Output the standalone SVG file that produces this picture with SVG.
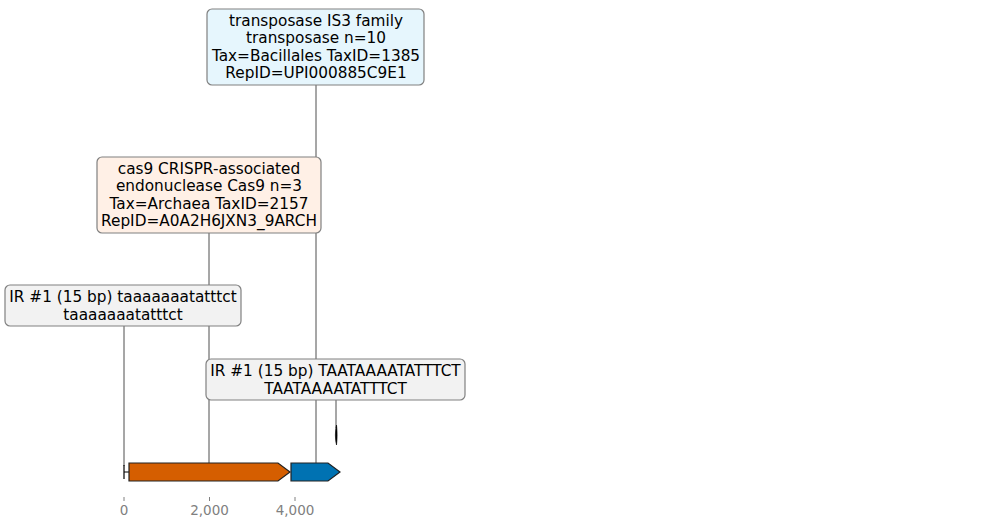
<svg xmlns="http://www.w3.org/2000/svg" width="989" height="528" viewBox="0 0 989 528">
<style>
.lbl{font-family:"DejaVu Sans",sans-serif;font-size:15.3px;fill:#000;text-anchor:middle}
.tick{font-family:"DejaVu Sans",sans-serif;font-size:13.5px;fill:#808080;text-anchor:middle}
.box{stroke:#808080;stroke-width:1.2}
.conn{stroke:#222;stroke-width:0.8;fill:none}
.gene{stroke:#222;stroke-width:1.2}
</style>
<rect width="989" height="528" fill="#fff"/>
<g id="connectors">
<line class="conn" x1="316" y1="85" x2="316" y2="463"/>
<line class="conn" x1="209" y1="233" x2="209" y2="463"/>
<line class="conn" x1="124" y1="326" x2="124" y2="466"/>
<line class="conn" x1="336" y1="400" x2="336" y2="428"/>
</g>
<g id="ir-left-feature">
<path d="M124,465 L124,479 M124,472 L129,472" stroke="#000" stroke-width="1.2" fill="none"/>
</g>
<g id="ir-right-feature">
<path d="M336.5,425 C335,430 335,440 336.5,445 C337.3,440 337.3,430 336.5,425 Z" fill="#000" stroke="#000" stroke-width="0.6"/>
</g>
<g id="cas9-gene">
<path class="gene" d="M129,463 L278,463 L290,472 L278,481 L129,481 Z" fill="#d55e00"/>
</g>
<g id="transposase-gene">
<path class="gene" d="M291,463 L328,463 L340,472 L328,481 L291,481 Z" fill="#0072b2"/>
</g>
<g id="axis">
<line x1="124" y1="497" x2="124" y2="501" stroke="#808080"/>
<line x1="209.5" y1="497" x2="209.5" y2="501" stroke="#808080"/>
<line x1="295" y1="497" x2="295" y2="501" stroke="#808080"/>
<text class="tick" x="124" y="515">0</text>
<text class="tick" x="209.5" y="515">2,000</text>
<text class="tick" x="295" y="515">4,000</text>
</g>
<g id="label-transposase">
<rect class="box" x="207" y="9" width="217" height="76" rx="5" fill="#e6f6fd"/>
<text class="lbl" x="316" y="25.5">transposase IS3 family</text>
<text class="lbl" x="316" y="43">transposase n=10</text>
<text class="lbl" x="316" y="60.5">Tax=Bacillales TaxID=1385</text>
<text class="lbl" x="316" y="78">RepID=UPI000885C9E1</text>
</g>
<g id="label-cas9">
<rect class="box" x="97" y="157" width="224" height="76" rx="5" fill="#fff0e6"/>
<text class="lbl" x="209" y="173.5">cas9 CRISPR-associated</text>
<text class="lbl" x="209" y="191">endonuclease Cas9 n=3</text>
<text class="lbl" x="209" y="208.5">Tax=Archaea TaxID=2157</text>
<text class="lbl" x="209" y="226">RepID=A0A2H6JXN3_9ARCH</text>
</g>
<g id="label-ir-left">
<rect class="box" x="5" y="285" width="236" height="41" rx="5" fill="#f2f2f2"/>
<text class="lbl" x="123" y="302">IR #1 (15 bp) taaaaaaatatttct</text>
<text class="lbl" x="123" y="319.5">taaaaaaatatttct</text>
</g>
<g id="label-ir-right">
<rect class="box" x="206" y="359" width="259" height="41" rx="5" fill="#f2f2f2"/>
<text class="lbl" x="335.5" y="376">IR #1 (15 bp) TAATAAAATATTTCT</text>
<text class="lbl" x="335.5" y="393.5">TAATAAAATATTTCT</text>
</g>
</svg>
